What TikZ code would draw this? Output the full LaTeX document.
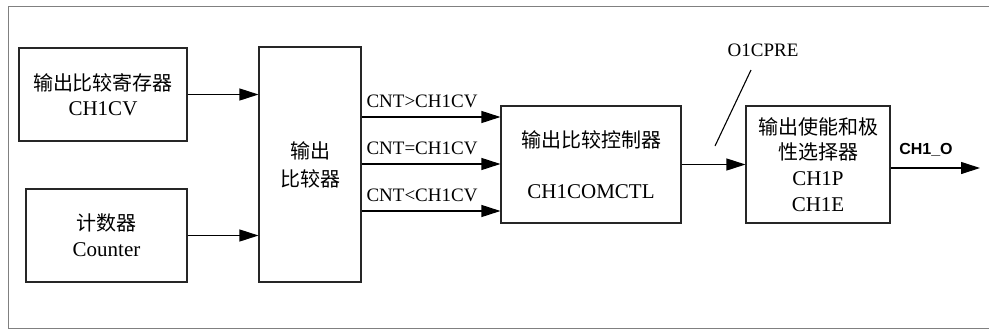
\documentclass[tikz,border=0pt]{standalone}
\usepackage{fontspec}
\setmainfont{Liberation Serif}
\newfontfamily\cjkf{Noto Sans CJK SC}
\newcommand\cjk{\cjkf\fontsize{20}{25}\selectfont}
\newfontfamily\arialb{Liberation Sans}
\usetikzlibrary{arrows.meta,calc}
\begin{document}
\begin{tikzpicture}[x=1pt,y=-1pt,
  blk/.style={draw=black!85,line width=1.1pt,inner sep=0pt,align=center,font=\fontsize{21}{25}\selectfont},
  arr/.style={draw=black,line width=1.1pt,-{Triangle[length=19pt,width=12pt]}},
  lbl/.style={inner sep=0pt,font=\fontsize{19}{22}\selectfont},
  frame/.style={draw=black!50,line width=1.6pt}]
\useasboundingbox (0,0) rectangle (989,330);
\draw[frame] (989,6.5) -- (8.5,6.5) -- (8.5,328.5) -- (989,328.5);
% blocks
\node[blk,minimum width=168pt,minimum height=93pt] (reg) at (103,94.5)
  {{\cjk 输出比较寄存器}\\CH1CV};
\node[blk,minimum width=161pt,minimum height=93pt] (cnt) at (106.5,235.5)
  {{\cjk 计数器}\\[1pt]Counter};
\node[blk,minimum width=102pt,minimum height=235pt,font=\fontsize{21}{28}\selectfont] (cmp) at (310,164.5)
  {{\cjk 输出}\\{\cjk 比较器}};
\node[blk,minimum width=180pt,minimum height=117pt] (ctl) at (591,164.5)
  {{\cjk 输出比较控制器}\\[26pt]CH1COMCTL};
\node[blk,minimum width=144pt,minimum height=117pt,font=\fontsize{21}{25.7}\selectfont] (en) at (818,164.5)
  {{\cjk 输出使能和极}\\{\cjk 性选择器}\\CH1P\\CH1E};
% arrows into comparator
\draw[arr] (reg.east) -- (reg.east -| cmp.west);
\draw[arr] (cnt.east) -- (cnt.east -| cmp.west);
% comparator outputs
\draw[arr] ([yshift=47.5pt]cmp.east) -- ([yshift=47.5pt]cmp.east -| ctl.west);
\draw[arr] ([yshift=0.5pt]cmp.east) -- ([yshift=0.5pt]cmp.east -| ctl.west);
\draw[arr] ([yshift=-46.5pt]cmp.east) -- ([yshift=-46.5pt]cmp.east -| ctl.west);
\node[lbl] (gt) at (422,101) {CNT\textgreater CH1CV};
\node[lbl] (eq) at (422,148) {CNT=CH1CV};
\node[lbl] (lt) at (422,195) {CNT\textless CH1CV};
% controller to enable
\draw[arr] (ctl.east) -- (en.west);
\node[lbl] (pre) at (763,50) {O1CPRE};
\coordinate (s1) at (751,70);
\coordinate (s2) at (715,146);
\draw[line width=1.1pt] (s1) -- (s2);
% output
\coordinate (out) at (980,168);
\draw[arr] ([yshift=-3.5pt]en.east) -- (out);
\node[inner sep=0pt,font=\arialb\bfseries\fontsize{16}{18}\selectfont] (o) at (926,150) {CH1\_O};
\end{tikzpicture}
\end{document}
